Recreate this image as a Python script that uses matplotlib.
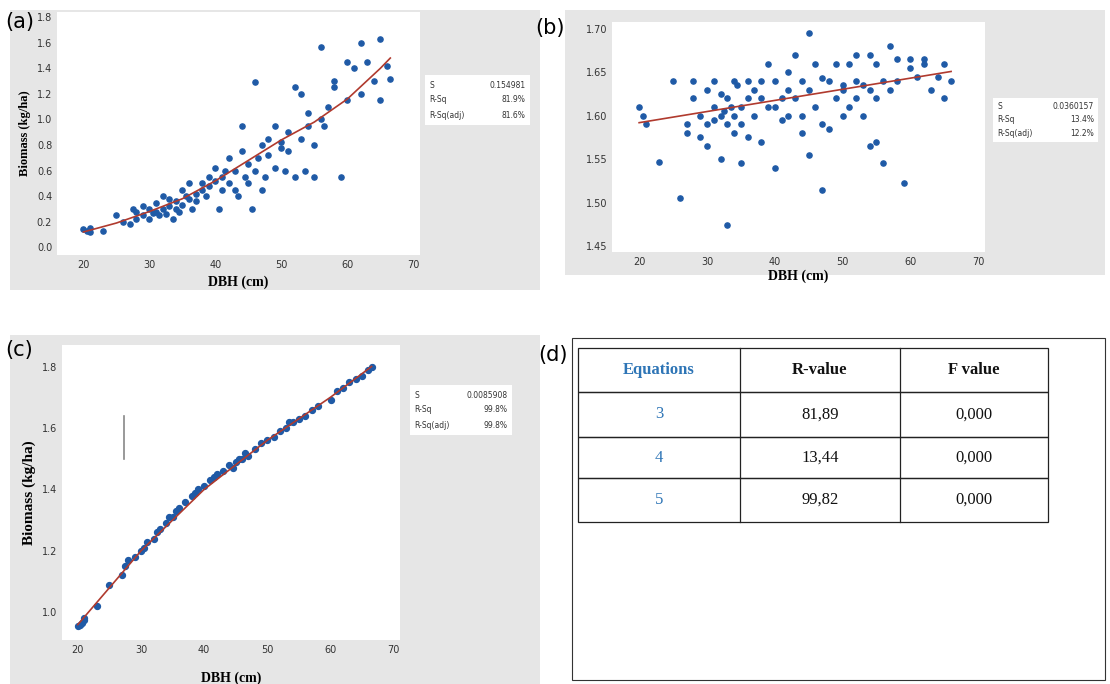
import matplotlib
matplotlib.use("Agg")
import matplotlib.pyplot as plt
from matplotlib.patches import Rectangle

# ---- data (a)
a_x = [20,20.5,21,21,23,25,26,27,27.5,28,28,29,29,30,30,30.5,31,31,31.5,32,32,32.5,33,33,33.5,34,34,34.5,35,35,35.5,36,36,36.5,37,37,38,38,38.5,39,39,40,40,40.5,41,41,41.5,42,42,43,43,43.5,44,44,44.5,45,45,45.5,46,46,46.5,47,47,47.5,48,48,49,49,50,50,50.5,51,51,52,52,53,53,53.5,54,54,55,55,56,56,56.5,57,58,58,59,60,60,61,62,62,63,64,65,65,66,66.5]
a_y = [0.14,0.13,0.15,0.12,0.13,0.25,0.2,0.18,0.3,0.28,0.22,0.25,0.32,0.3,0.22,0.27,0.35,0.28,0.25,0.4,0.3,0.26,0.32,0.38,0.22,0.3,0.36,0.28,0.45,0.33,0.4,0.5,0.38,0.3,0.42,0.36,0.5,0.45,0.4,0.55,0.48,0.62,0.52,0.3,0.55,0.45,0.6,0.7,0.5,0.6,0.45,0.4,0.95,0.75,0.55,0.65,0.5,0.3,1.29,0.6,0.7,0.8,0.45,0.55,0.85,0.72,0.62,0.95,0.78,0.82,0.6,0.75,0.9,1.25,0.55,1.2,0.85,0.6,1.05,0.95,0.55,0.8,1.57,1.0,0.95,1.1,1.25,1.3,0.55,1.45,1.15,1.4,1.2,1.6,1.45,1.3,1.63,1.15,1.42,1.32]
a_fx = [20,25,30,35,40,45,50,55,60,65,66.5]
a_fy = [0.12,0.19,0.28,0.38,0.52,0.68,0.84,0.98,1.16,1.40,1.48]
# ---- data (b)
b_x = [20,20.5,21,23,25,26,27,27,28,28,29,29,30,30,30,31,31,31,32,32,32,32.5,33,33,33,33.5,34,34,34,34.5,35,35,35,36,36,36,37,37,38,38,38,39,39,40,40,40,41,41,42,42,42,43,43,44,44,44,45,45,45,46,46,47,47,47,48,48,49,49,50,50,50,51,51,52,52,52,53,53,54,54,54,55,55,55,56,56,57,57,58,58,59,60,60,61,62,62,63,64,65,65,66]
b_y = [1.61,1.60,1.59,1.547,1.64,1.505,1.59,1.58,1.62,1.64,1.60,1.575,1.63,1.59,1.565,1.61,1.64,1.595,1.60,1.625,1.55,1.605,1.59,1.62,1.474,1.61,1.64,1.58,1.60,1.635,1.61,1.59,1.545,1.62,1.64,1.575,1.63,1.60,1.57,1.62,1.64,1.66,1.61,1.61,1.64,1.54,1.62,1.595,1.63,1.65,1.60,1.67,1.62,1.60,1.64,1.58,1.695,1.63,1.555,1.66,1.61,1.59,1.643,1.515,1.64,1.585,1.62,1.66,1.635,1.63,1.60,1.66,1.61,1.64,1.62,1.67,1.635,1.60,1.67,1.63,1.565,1.66,1.62,1.57,1.64,1.545,1.68,1.63,1.665,1.64,1.522,1.665,1.655,1.645,1.665,1.66,1.63,1.645,1.66,1.62,1.64]
b_fx = [20,66]
b_fy = [1.592,1.651]
# ---- data (c)
c_x = [20,20.3,20.6,21,21,23,25,27,27.5,28,29,30,30.5,31,32,32.5,33,34,34.5,35,35.5,36,37,38,38.5,39,40,41,41.5,42,43,44,44.5,45,45.5,46,46.5,47,48,49,50,51,52,53,53.5,54,55,56,57,58,60,61,62,63,64,65,66,66.5]
c_y = [0.955,0.96,0.965,0.975,0.98,1.02,1.09,1.12,1.15,1.17,1.18,1.20,1.21,1.23,1.24,1.26,1.27,1.29,1.31,1.31,1.33,1.34,1.36,1.38,1.39,1.40,1.41,1.43,1.44,1.45,1.46,1.48,1.47,1.49,1.50,1.50,1.52,1.51,1.53,1.55,1.56,1.57,1.59,1.60,1.62,1.62,1.63,1.64,1.66,1.67,1.69,1.72,1.73,1.75,1.76,1.77,1.79,1.80]
c_fx = [20,30,40,50,60,66.5]
c_fy = [0.96,1.20,1.40,1.56,1.70,1.80]
# ---- table (d)
tbl_head = ["Equations", "R-value", "F value"]
tbl_eq = ["3", "4", "5"]
tbl_r = ["81,89", "13,44", "99,82"]
tbl_f = ["0,000", "0,000", "0,000"]

W, H = 1110, 684
fig = plt.figure(figsize=(W/100, H/100), dpi=100)
fig.patch.set_facecolor("white")
serif = "Liberation Serif"
blue = "#1f5aa6"; red = "#b03a2e"; grey = "#e6e6e6"

def box(x0, y0, x1, y1, **kw):
    ax = fig.add_axes([x0/W, 1-y1/H, (x1-x0)/W, (y1-y0)/H])
    ax.set_xticks([]); ax.set_yticks([])
    for s in ax.spines.values(): s.set_visible(False)
    ax.set_facecolor(kw.get("fc", grey))
    return ax

def plot_axes(x0, y0, x1, y1, xlim, ylim):
    ax = fig.add_axes([x0/W, 1-y1/H, (x1-x0)/W, (y1-y0)/H])
    ax.set_facecolor("white")
    for s in ax.spines.values(): s.set_visible(False)
    ax.set_xlim(*xlim); ax.set_ylim(*ylim)
    ax.tick_params(length=0, labelsize=7, colors="#333333")
    return ax

def stats(x0, y0, x1, y1, vals):
    ax = box(x0, y0, x1, y1, fc="white")
    ax.set_xlim(0, 1); ax.set_ylim(0, 1)
    for i, (k, v) in enumerate(zip(["S", "R-Sq", "R-Sq(adj)"], vals)):
        yy = 0.8 - i*0.3
        ax.text(0.04, yy, k, fontsize=5.5, va="center", color="#333")
        ax.text(0.96, yy, v, fontsize=5.5, va="center", ha="right", color="#333")

# (a)
box(10, 10, 540, 290)
ax = plot_axes(57, 12, 420, 255, (16, 71), (-0.06, 1.84))
ax.set_xticks([20,30,40,50,60,70]); ax.set_yticks([0.0,0.2,0.4,0.6,0.8,1.0,1.2,1.4,1.6,1.8])
ax.set_yticklabels(["0.0","0.2","0.4","0.6","0.8","1.0","1.2","1.4","1.6","1.8"])
ax.scatter(a_x, a_y, s=14, color=blue, zorder=3)
ax.plot(a_fx, a_fy, color=red, lw=1.2, zorder=4)
ax.set_xlabel("DBH (cm)", fontsize=10, fontweight="bold", family=serif)
ax.set_ylabel("Biomass (kg/ha)", fontsize=9, fontweight="bold", family=serif)
stats(425, 75, 530, 125, ["0.154981", "81.9%", "81.6%"])
fig.text(5/W, 1-22/H, "(a)", fontsize=15, va="center")

# (b)
box(565, 10, 1105, 275)
ax = plot_axes(612, 22, 985, 252, (16, 71), (1.443, 1.708))
ax.set_xticks([20,30,40,50,60,70]); ax.set_yticks([1.45,1.50,1.55,1.60,1.65,1.70])
ax.set_yticklabels(["1.45","1.50","1.55","1.60","1.65","1.70"])
ax.scatter(b_x, b_y, s=14, color=blue, zorder=3)
ax.plot(b_fx, b_fy, color=red, lw=1.2, zorder=4)
ax.set_xlabel("DBH (cm)", fontsize=10, fontweight="bold", family=serif, labelpad=2)
stats(993, 98, 1098, 142, ["0.0360157", "13.4%", "12.2%"])
fig.text(535/W, 1-28/H, "(b)", fontsize=15, va="center")

# (c)
box(10, 335, 540, 684)
ax = plot_axes(62, 345, 400, 640, (17.5, 71), (0.91, 1.87))
ax.set_xticks([20,30,40,50,60,70]); ax.set_yticks([1.0,1.2,1.4,1.6,1.8])
ax.set_yticklabels(["1.0","1.2","1.4","1.6","1.8"])
ax.scatter(c_x, c_y, s=18, color=blue, zorder=3)
ax.plot(c_fx, c_fy, color=red, lw=1.2, zorder=4)
ax.plot([27.3, 27.3], [1.5, 1.64], color="#888", lw=1.2)
ax.set_xlabel("DBH (cm)", fontsize=10, fontweight="bold", family=serif, labelpad=12)
ax.set_ylabel("Biomass (kg/ha)", fontsize=11, fontweight="bold", family=serif)
stats(410, 385, 512, 435, ["0.0085908", "99.8%", "99.8%"])
fig.text(5/W, 1-350/H, "(c)", fontsize=15, va="center")

# (d)
ax = fig.add_axes([0, 0, 1, 1]); ax.set_xlim(0, W); ax.set_ylim(H, 0); ax.axis("off")
ax.add_patch(Rectangle((572, 338), 533, 342, fill=False, lw=0.8, color="#333"))
fig.text(538/W, 1-355/H, "(d)", fontsize=15, va="center")
cols = [578, 740, 900, 1048]
rows = [348, 392, 437, 478, 522]
for i in range(len(rows)-1):
    ax.add_patch(Rectangle((cols[0], rows[i]), cols[-1]-cols[0], rows[i+1]-rows[i], fill=False, lw=0.9, color="#222"))
for c in cols[1:-1]:
    ax.plot([c, c], [rows[0], rows[-1]], color="#222", lw=0.9)
cx = [(cols[j]+cols[j+1])/2 for j in range(3)]
for j, h in enumerate(tbl_head):
    ax.text(cx[j], (rows[0]+rows[1])/2, h, ha="center", va="center", fontsize=12, fontweight="bold",
            family=serif, color=("#2e75b6" if j == 0 else "#111"))
for i in range(3):
    ym = (rows[i+1]+rows[i+2])/2
    ax.text(cx[0], ym, tbl_eq[i], ha="center", va="center", fontsize=12, family=serif, color="#2e75b6")
    ax.text(cx[1], ym, tbl_r[i], ha="center", va="center", fontsize=12, family=serif, color="#111")
    ax.text(cx[2], ym, tbl_f[i], ha="center", va="center", fontsize=12, family=serif, color="#111")

fig.savefig("out.png", dpi=100)
